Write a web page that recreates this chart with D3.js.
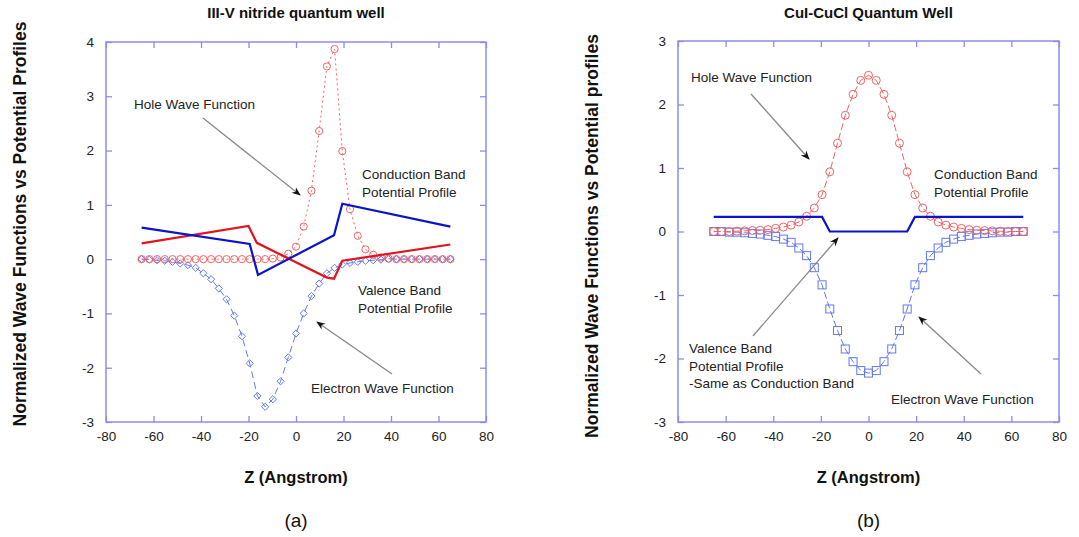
<!DOCTYPE html>
<html>
<head>
<meta charset="utf-8">
<script src="https://cdn.jsdelivr.net/npm/d3@7"></script>
<style>
  html, body { margin: 0; padding: 0; background: #fff; }
  svg { display: block; font-family: "Liberation Sans", Arial, sans-serif; }
</style>
</head>
<body>
<svg id="chart" width="1079" height="537"></svg>
<script>
// ---------------- DATA ----------------
// Common z grid (Angstrom) for wave function samples
const zGrid = [-65,-61.75,-58.5,-55.25,-52,-48.75,-45.5,-42.25,-39,-35.75,-32.5,-29.25,-26,-22.75,-19.5,-16.25,-13,-9.75,-6.5,-3.25,0,
               3.25,6.5,9.75,13,16.25,19.5,22.75,26,29.25,32.5,35.75,39,42.25,45.5,48.75,52,55.25,58.5,61.75,65];

// (a) III-V nitride quantum well
const holeA = [0,0,0,0,0,0,0,0,0,0,0,0,0,0,0,0,0,0.01,0.03,0.1,0.23,
               0.6,1.26,2.36,3.55,3.87,1.99,0.92,0.43,0.18,0.08,0.03,0.01,0,0,0,0,0,0,0,0];
const electronA = [0,-0.01,-0.02,-0.03,-0.05,-0.08,-0.11,-0.16,-0.26,-0.37,-0.54,-0.74,-1.04,-1.42,-1.92,-2.52,-2.72,-2.58,-2.25,-1.81,-1.37,
                   -1.0,-0.68,-0.45,-0.26,-0.16,-0.1,-0.07,-0.05,-0.03,-0.02,-0.01,0,0,0,0,0,0,0,0,0];
const condZA = [-65,-19.5,-16,16,19.5,65];
const condVA = [0.58,0.28,-0.29,0.44,1.02,0.6];
const valZA  = [-65,-20,-16.5,13,16,19.5,65];
const valVA  = [0.29,0.61,0.3,-0.34,-0.36,-0.03,0.27];

// (b) CuI-CuCl quantum well
const holeB = [0,0,0,0.005,0.01,0.015,0.02,0.03,0.05,0.07,0.1,0.15,0.24,0.37,0.58,0.94,1.39,1.83,2.16,2.38,2.46,
               2.38,2.16,1.83,1.39,0.94,0.58,0.37,0.24,0.15,0.1,0.07,0.05,0.03,0.02,0.015,0.01,0.005,0,0,0];
const electronB = [0,0,-0.01,-0.01,-0.02,-0.03,-0.04,-0.06,-0.08,-0.12,-0.17,-0.26,-0.38,-0.57,-0.84,-1.22,-1.56,-1.85,-2.05,-2.19,-2.23,
                   -2.19,-2.05,-1.85,-1.56,-1.22,-0.84,-0.57,-0.38,-0.26,-0.17,-0.12,-0.08,-0.06,-0.04,-0.03,-0.02,-0.01,-0.01,0,0];
const condZB = [-65,-19.5,-16.25,16.25,19.5,65];
const condVB = [0.23,0.23,0,0,0.23,0.23];

const xTicks = [-80,-60,-40,-20,0,20,40,60,80];
const yTicksA = [-3,-2,-1,0,1,2,3,4];
const yTicksB = [-3,-2,-1,0,1,2,3];

const titleA = "III-V nitride quantum well";
const titleB = "CuI-CuCl Quantum Well";
const yLabelA = "Normalized Wave Functions vs Potential Profiles";
const yLabelB = "Normalized Wave Functions vs Potential profiles";
const xLabel = "Z (Angstrom)";

// ---------------- DRAWING ----------------
const svg = d3.select("#chart");
const frameColor = "#8c8cf0";
const redLine = "#e0141e", blueLine = "#0a14c8";
const redMark = "#f06464", blueMark = "#6478f0";
const fmt = d => String(d);  // plain hyphen minus as in the original

const defs = svg.append("defs");
defs.append("marker").attr("id", "arrowhead")
  .attr("viewBox", "0 0 10 10").attr("refX", 9).attr("refY", 5)
  .attr("markerWidth", 9).attr("markerHeight", 9).attr("markerUnits", "userSpaceOnUse")
  .attr("orient", "auto")
  .append("path").attr("d", "M0,1 L10,5 L0,9 L3,5 Z").attr("fill", "#111");

function panel(cfg) {
  const g = svg.append("g");
  const x = d3.scaleLinear().domain([-80, 80]).range([cfg.left, cfg.right]);
  const y = d3.scaleLinear().domain(cfg.yDomain).range([cfg.bottom, cfg.top]);

  // frame
  g.append("rect").attr("x", cfg.left).attr("y", cfg.top)
    .attr("width", cfg.right - cfg.left).attr("height", cfg.bottom - cfg.top)
    .attr("fill", "none").attr("stroke", frameColor).attr("stroke-width", 1.5);

  const styleAxis = sel => {
    sel.select(".domain").remove();
    sel.selectAll(".tick line").attr("stroke", frameColor).attr("stroke-width", 1.3);
    sel.selectAll(".tick text").attr("fill", "#222").style("font-size", "13.5px")
      .style("font-family", "'Liberation Sans', Arial, sans-serif");
  };
  g.append("g").attr("transform", `translate(0,${cfg.bottom})`)
    .call(d3.axisBottom(x).tickValues(xTicks).tickSize(-6).tickPadding(9).tickFormat(fmt))
    .call(styleAxis);
  g.append("g").attr("transform", `translate(0,${cfg.top})`)
    .call(d3.axisTop(x).tickValues(xTicks).tickSize(-6).tickFormat(""))
    .call(styleAxis);
  g.append("g").attr("transform", `translate(${cfg.left},0)`)
    .call(d3.axisLeft(y).tickValues(cfg.yTicks).tickSize(-6).tickPadding(12).tickFormat(fmt))
    .call(styleAxis);
  g.append("g").attr("transform", `translate(${cfg.right},0)`)
    .call(d3.axisRight(y).tickValues(cfg.yTicks).tickSize(-6).tickFormat(""))
    .call(styleAxis);

  const line = d3.line().x(d => x(d[0])).y(d => y(d[1]));

  // wave function lines
  const holePts = zGrid.map((z, i) => [z, cfg.hole[i]]);
  const elecPts = zGrid.map((z, i) => [z, cfg.electron[i]]);

  g.append("path").datum(elecPts).attr("d", line).attr("fill", "none")
    .attr("stroke", blueMark).attr("stroke-width", 1).attr("stroke-dasharray", cfg.elecDash);
  g.append("path").datum(holePts).attr("d", line).attr("fill", "none")
    .attr("stroke", redMark).attr("stroke-width", 1).attr("stroke-dasharray", cfg.holeDash);

  // electron markers
  if (cfg.elecShape === "diamond") {
    g.selectAll(".em").data(elecPts).enter().append("path")
      .attr("d", d => { const cx = x(d[0]), cy = y(d[1]), s = 3.6;
        return `M${cx},${cy - s}L${cx + s},${cy}L${cx},${cy + s}L${cx - s},${cy}Z`; })
      .attr("fill", "none").attr("stroke", blueMark).attr("stroke-width", 1);
  } else {
    g.selectAll(".em").data(elecPts).enter().append("rect")
      .attr("x", d => x(d[0]) - 4).attr("y", d => y(d[1]) - 4)
      .attr("width", 8).attr("height", 8)
      .attr("fill", "none").attr("stroke", blueMark).attr("stroke-width", 1);
  }
  // hole markers
  g.selectAll(".hm").data(holePts).enter().append("circle")
    .attr("cx", d => x(d[0])).attr("cy", d => y(d[1])).attr("r", cfg.holeR)
    .attr("fill", "none").attr("stroke", redMark).attr("stroke-width", 1);

  // potential profiles
  if (cfg.valZ) {
    g.append("path").datum(cfg.valZ.map((z, i) => [z, cfg.valV[i]])).attr("d", line)
      .attr("fill", "none").attr("stroke", redLine).attr("stroke-width", 2.2);
  }
  g.append("path").datum(cfg.condZ.map((z, i) => [z, cfg.condV[i]])).attr("d", line)
    .attr("fill", "none").attr("stroke", blueLine).attr("stroke-width", 2.2);

  // annotations
  cfg.notes.forEach(n => {
    const t = g.append("text").attr("x", n.x).attr("y", n.y)
      .attr("fill", "#222").style("font-size", "13.5px");
    n.lines.forEach((s, i) => t.append("tspan").attr("x", n.x).attr("dy", i === 0 ? 0 : 17.5).text(s));
  });
  cfg.arrows.forEach(a => {
    g.append("line").attr("x1", a[0]).attr("y1", a[1]).attr("x2", a[2]).attr("y2", a[3])
      .attr("stroke", "#888").attr("stroke-width", 1.3).attr("marker-end", "url(#arrowhead)");
  });

  // titles and labels
  const cx = (cfg.left + cfg.right) / 2;
  svg.append("text").attr("x", cx).attr("y", 18).attr("text-anchor", "middle")
    .style("font-size", "15px").style("font-weight", "bold").attr("fill", "#111").text(cfg.title);
  svg.append("text").attr("transform", `translate(${cfg.left - 80},${cfg.yLabelY}) rotate(-90)`)
    .attr("text-anchor", "middle").style("font-size", "17.5px").style("font-weight", "bold")
    .attr("fill", "#111").text(cfg.yLabel);
  svg.append("text").attr("x", cx).attr("y", 483).attr("text-anchor", "middle")
    .style("font-size", "16.5px").style("font-weight", "bold").attr("fill", "#111").text(xLabel);
  svg.append("text").attr("x", cx).attr("y", 527).attr("text-anchor", "middle")
    .style("font-size", "19px").attr("fill", "#111").text(cfg.tag);
}

panel({
  left: 106, right: 486, top: 42, bottom: 422,
  yDomain: [-3, 4], yTicks: yTicksA,
  hole: holeA, electron: electronA,
  holeDash: "2,3", elecDash: "7,4", elecShape: "diamond", holeR: 3.6,
  condZ: condZA, condV: condVA, valZ: valZA, valV: valVA,
  title: titleA, yLabel: yLabelA, yLabelY: 224, tag: "(a)",
  notes: [
    { x: 134, y: 109, lines: ["Hole Wave Function"] },
    { x: 362, y: 179, lines: ["Conduction Band", "Potential Profile"] },
    { x: 358, y: 295, lines: ["Valence Band", "Potential Profile"] },
    { x: 311, y: 393, lines: ["Electron Wave Function"] }
  ],
  arrows: [[203, 118, 300, 195], [392, 374, 317, 322]]
});

panel({
  left: 678, right: 1059, top: 41, bottom: 422,
  yDomain: [-3, 3], yTicks: yTicksB,
  hole: holeB, electron: electronB,
  holeDash: "7,3", elecDash: "7,3", elecShape: "square", holeR: 4,
  condZ: condZB, condV: condVB,
  title: titleB, yLabel: yLabelB, yLabelY: 236, tag: "(b)",
  notes: [
    { x: 691, y: 82, lines: ["Hole Wave Function"] },
    { x: 934, y: 179, lines: ["Conduction Band", "Potential Profile"] },
    { x: 689, y: 353, lines: ["Valence Band", "Potential Profile", "-Same as Conduction Band"] },
    { x: 891, y: 404, lines: ["Electron Wave Function"] }
  ],
  arrows: [[751, 94, 809, 159], [753, 336, 838, 238], [981, 374, 919, 317]]
});
</script>
</body>
</html>
